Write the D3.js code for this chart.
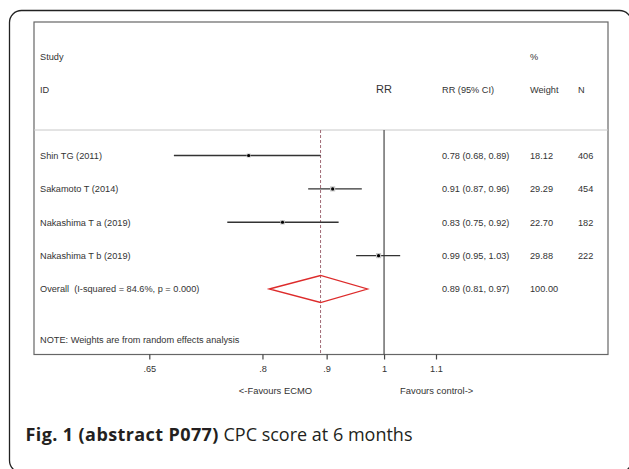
<!DOCTYPE html>
<html>
<head>
<meta charset="utf-8">
<script src="https://cdn.jsdelivr.net/npm/d3@7"></script>
<style>
	body { margin: 0; background: #fff; }
	svg { display: block; }
</style>
</head>
<body>
<div id="chart"></div>
<script>
////////////
// DATA //
////////////
var studies = ["Shin TG (2011)", "Sakamoto T (2014)", "Nakashima T a (2019)", "Nakashima T b (2019)"];
var rr = [0.78, 0.91, 0.83, 0.99];
var ciLow = [0.68, 0.87, 0.75, 0.95];
var ciHigh = [0.89, 0.96, 0.92, 1.03];
var weights = [18.12, 29.29, 22.70, 29.88];
var counts = [406, 454, 182, 222];
var overallLabel = "Overall  (I-squared = 84.6%, p = 0.000)";
var overall = [0.89, 0.81, 0.97, 100.00]; // rr, low, high, weight
var tickValues = [0.65, 0.8, 0.9, 1, 1.1];
var tickLabels = [".65", ".8", ".9", "1", "1.1"];

/////////////////
// "CONSTANTS" //
/////////////////
var WIDTH = 629;
var HEIGHT = 469;
var FONT = "'Liberation Sans', Arial, sans-serif";
var FONT_SIZE = 9.2;
var TEXT_COLOR = "#333";
var BOX = { left: 34, top: 22, right: 608, bottom: 354.5 };
var HEADER_LINE_Y = 130;
var COL_CI = 442;
var COL_WEIGHT = 530;
var COL_N = 578;
var LABEL_X = 40;

var f2 = d3.format(".2f");

var svg = d3.select("#chart").append("svg")
	.attr("width", WIDTH)
	.attr("height", HEIGHT);

svg.append("rect")
	.attr("width", WIDTH)
	.attr("height", HEIGHT)
	.attr("fill", "#fff");

// outer panel frame
svg.append("rect")
	.attr("x", 9.5)
	.attr("y", 10.5)
	.attr("width", 622)
	.attr("height", 462)
	.attr("rx", 12)
	.attr("fill", "none")
	.attr("stroke", "#222")
	.attr("stroke-width", 1.3);

var x = d3.scaleLog().domain([0.65, 1.1]).range([149.3, 436]);
var y = d3.scaleLinear().domain([0, 4]).range([155.5, 289]);

// plot box
svg.append("rect")
	.attr("x", BOX.left)
	.attr("y", BOX.top)
	.attr("width", BOX.right - BOX.left)
	.attr("height", BOX.bottom - BOX.top)
	.attr("fill", "none")
	.attr("stroke", "#666")
	.attr("stroke-width", 1.2);

svg.append("line")
	.attr("x1", BOX.left).attr("x2", BOX.right)
	.attr("y1", HEADER_LINE_Y).attr("y2", HEADER_LINE_Y)
	.attr("stroke", "#c8c8c8")
	.attr("stroke-width", 1);

var addText = function(txt, tx, ty, anchor, size) {
	return svg.append("text")
		.attr("x", tx)
		.attr("y", ty)
		.attr("text-anchor", anchor || "start")
		.attr("font-family", FONT)
		.attr("font-size", size || FONT_SIZE)
		.attr("fill", TEXT_COLOR)
		.text(txt);
};

// headers
addText("Study", LABEL_X, 59.5);
addText("ID", LABEL_X, 92.5);
addText("RR", x(1), 93, "middle", 11);
addText("RR (95% CI)", COL_CI, 92.5);
addText("%", COL_WEIGHT, 59.5);
addText("Weight", COL_WEIGHT, 92.5);
addText("N", COL_N, 92.5);

// reference lines
svg.append("line")
	.attr("x1", x(1)).attr("x2", x(1))
	.attr("y1", HEADER_LINE_Y).attr("y2", BOX.bottom)
	.attr("stroke", "#555")
	.attr("stroke-width", 1.3);

svg.append("line")
	.attr("x1", x(overall[0])).attr("x2", x(overall[0]))
	.attr("y1", HEADER_LINE_Y).attr("y2", BOX.bottom)
	.attr("stroke", "#a06a76")
	.attr("stroke-width", 1)
	.attr("stroke-dasharray", "3,2");

// study rows
studies.forEach(function(name, i) {
	var cy = y(i);
	addText(name, LABEL_X, cy + 3.3);
	addText(f2(rr[i]) + " (" + f2(ciLow[i]) + ", " + f2(ciHigh[i]) + ")", COL_CI, cy + 3.3);
	addText(f2(weights[i]), COL_WEIGHT, cy + 3.3);
	addText(counts[i], COL_N, cy + 3.3);

	svg.append("line")
		.attr("x1", x(ciLow[i])).attr("x2", x(ciHigh[i]))
		.attr("y1", cy).attr("y2", cy)
		.attr("stroke", "#333")
		.attr("stroke-width", 1.3);

	var side = 0.95 * Math.sqrt(weights[i]);
	svg.append("rect")
		.attr("x", x(rr[i]) - side / 2)
		.attr("y", cy - side / 2)
		.attr("width", side)
		.attr("height", side)
		.attr("fill", "#c8c8c8");

	svg.append("circle")
		.attr("cx", x(rr[i]))
		.attr("cy", cy)
		.attr("r", 1.6)
		.attr("fill", "#000");
});

// overall row
var oy = y(4);
addText(overallLabel, LABEL_X, oy + 3.3).attr("xml:space", "preserve").style("white-space", "pre");
addText(f2(overall[0]) + " (" + f2(overall[1]) + ", " + f2(overall[2]) + ")", COL_CI, oy + 3.3);
addText(f2(overall[3]), COL_WEIGHT, oy + 3.3);

svg.append("path")
	.attr("d",
		"M " + x(overall[1]) + " " + oy +
		" L " + x(overall[0]) + " " + (oy - 13.5) +
		" L " + x(overall[2]) + " " + oy +
		" L " + x(overall[0]) + " " + (oy + 13.5) + " Z")
	.attr("fill", "none")
	.attr("stroke", "#dd2b2b")
	.attr("stroke-width", 1.3);

addText("NOTE: Weights are from random effects analysis", LABEL_X, 342.5);

// x axis
var axis = d3.axisBottom(x)
	.tickValues(tickValues)
	.tickFormat(function(d, i) { return tickLabels[i]; })
	.tickSize(5)
	.tickPadding(6);

var gAxis = svg.append("g")
	.attr("transform", "translate(0," + BOX.bottom + ")")
	.call(axis);
gAxis.select(".domain").remove();
gAxis.selectAll(".tick line").attr("stroke", "#444").attr("stroke-width", 1.2);
gAxis.selectAll(".tick text")
	.attr("font-family", FONT)
	.attr("font-size", FONT_SIZE)
	.attr("fill", TEXT_COLOR);

addText("<-Favours ECMO", x(1) - 72, 393.5, "end", 9.4);
addText("Favours control->", x(1) + 16, 393.5, "start", 9.4);

// caption
var caption = svg.append("text")
	.attr("x", 25.5)
	.attr("y", 441)
	.attr("font-family", "'Open Sans', 'Noto Sans', sans-serif")
	.attr("font-size", 18)
	.attr("fill", "#231f20");
caption.append("tspan").attr("font-weight", "bold").attr("letter-spacing", 0.4).text("Fig. 1 (abstract P077)");
caption.append("tspan").text(" CPC score at 6 months");
</script>
</body>
</html>
